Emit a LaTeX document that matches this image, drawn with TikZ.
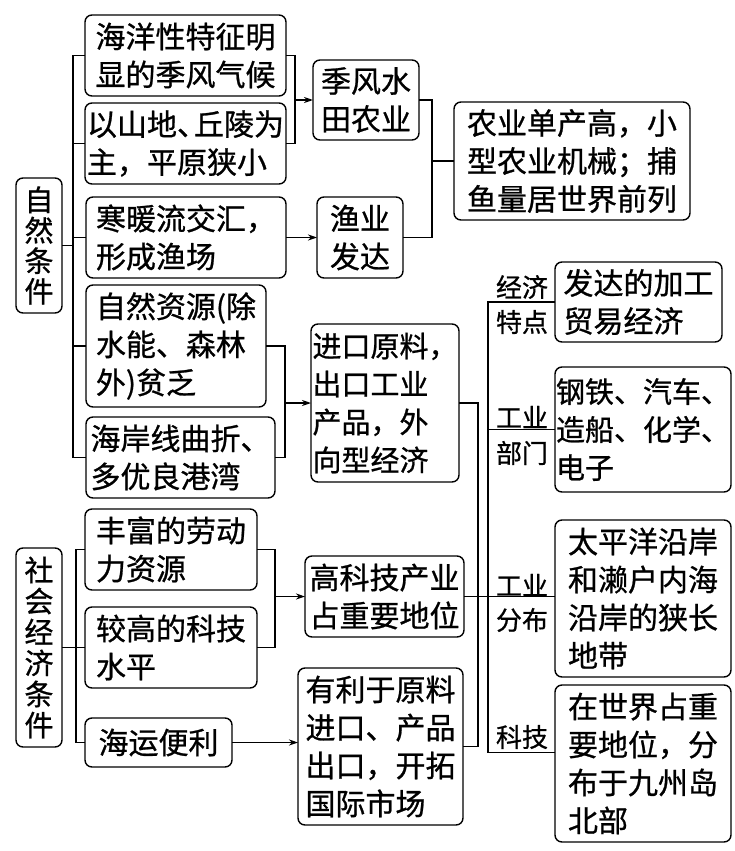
\documentclass[tikz,border=0pt]{standalone}
\usepackage{fontspec}
\newfontfamily\cjk[FakeBold=0.8]{Noto Sans CJK SC}
\usetikzlibrary{arrows.meta}
\begin{document}
\begin{tikzpicture}[x=1pt,y=-1pt,
  box/.style={draw, line width=1.4pt, rounded corners=7pt, anchor=north west, inner sep=0pt, outer sep=0pt, align=left, font=\cjk\fontsize{30}{38}\selectfont},
  vbox/.style={box, align=center, font=\cjk\fontsize{29}{30.5}\selectfont},
  lab/.style={inner sep=0pt, font=\cjk\fontsize{26}{30}\selectfont},
  ln/.style={line width=1.4pt},
  arr/.style={ln, -{Stealth[length=9pt,width=6pt]}}]
\fill[white] (0,0) rectangle (735,851);
\useasboundingbox (0,0) rectangle (735,851);
% natural conditions
\node[vbox, minimum width=46pt, minimum height=135pt] (NZ) at (16,178) {自\\然\\条\\件};
\node[box, minimum width=201pt, minimum height=81pt] (A1) at (85,15) {海洋性特征明\\显的季风气候};
\node[box, minimum width=201pt, minimum height=81pt] (A2) at (85,103) {以山地、\kern-13pt丘陵为\\主，平原狭小};
\node[box, minimum width=200pt, minimum height=81pt] (A3) at (86,197) {寒暖流交汇，\\形成渔场};
\node[box, minimum width=180pt, minimum height=122pt] (A4) at (86,285) {自然资源(除\\水能、森林\\外)贫乏};
\node[box, minimum width=189pt, minimum height=81pt] (A5) at (86,417) {海岸线曲折、\\多优良港湾};
\node[box, minimum width=106pt, minimum height=80pt] (B1) at (313,60) {季风水\\田农业};
\node[box, minimum width=86pt, minimum height=81pt] (B2) at (317,197) {渔业\\发达};
\node[box, minimum width=236pt, minimum height=118pt] (C1) at (454,102) {农业单产高，小\\型农业机械；捕\\鱼量居世界前列};
\node[box, minimum width=148pt, minimum height=158pt, font=\cjk\fontsize{29}{38}\selectfont] (B3) at (311,324) {进口原料，\\出口工业\\产品，外\\向型经济};
% right column
\node[box, minimum width=167pt, minimum height=80pt] (D1) at (555,262) {发达的加工\\贸易经济};
\node[box, minimum width=176pt, minimum height=125pt, font=\cjk\fontsize{29}{38}\selectfont] (D2) at (555,367) {钢铁、汽车、\\造船、化学、\\电子};
\node[box, minimum width=176pt, minimum height=157pt] (D3) at (555,520) {太平洋沿岸\\和濑户内海\\沿岸的狭长\\地带};
\node[box, minimum width=176pt, minimum height=157pt] (D4) at (555,685) {在世界占重\\要地位，分\\布于九州岛\\北部};
% social conditions
\node[vbox, minimum width=46pt, minimum height=199pt, font=\cjk\fontsize{29}{31}\selectfont] (SJ) at (16,548) {社\\会\\经\\济\\条\\件};
\node[box, minimum width=172pt, minimum height=81pt] (E1) at (85,509) {丰富的劳动\\力资源};
\node[box, minimum width=172pt, minimum height=81pt] (E2) at (85,607) {较高的科技\\水平};
\node[box, minimum width=147pt, minimum height=49pt] (E3) at (85,718) {海运便利};
\node[box, minimum width=159pt, minimum height=81pt] (B4) at (305,556) {高科技产业\\占重要地位};
\node[box, minimum width=165pt, minimum height=157pt] (B5) at (298,668) {有利于原料\\进口、产品\\出口，开拓\\国际市场};
% labels
\node[lab] (l1) at (522,287) {经济};
\node[lab] (l2) at (522,322) {特点};
\node[lab] (l3) at (522,417) {工业};
\node[lab] (l4) at (522,453) {部门};
\node[lab] (l5) at (522,585) {工业};
\node[lab] (l6) at (522,620) {分布};
\node[lab] (l7) at (522,737) {科技};
% guide coordinates
\coordinate (x1) at (73,0);
\coordinate (x2) at (295,0);
\coordinate (x3) at (432,0);
\coordinate (x4) at (285,0);
\coordinate (x5) at (478,0);
\coordinate (x6) at (488,0);
\coordinate (x7) at (76,0);
\coordinate (x8) at (275,0);
% connectors
\draw[ln] (A1.west) -- (A1.west -| x1) |- (A5.west);
\draw[ln] (A2.west) -- (A2.west -| x1);
\draw[ln] (A3.west) -- (A3.west -| x1);
\draw[ln] (A4.west) -- (A4.west -| x1);
\draw[ln] (NZ.east) -- (NZ.east -| x1);
\draw[ln] (A1.east) -- (A1.east -| x2) |- (A2.east);
\draw[arr] (B1.west -| x2) -- (B1.west);
\draw[arr] (A3.east) -- (A3.east -| B2.west);
\draw[ln] (B1.east) -- (B1.east -| x3) |- (B2.east);
\draw[ln] (C1.west -| x3) -- (C1.west);
\draw[ln] (A4.east) -- (A4.east -| x4) |- (A5.east);
\draw[arr] (B3.west -| x4) -- (B3.west);
\draw[ln] (B3.east) -- (B3.east -| x5) |- (B5.east);
\draw[ln] (D1.west) -- (D1.west -| x6) |- ([yshift=11pt]D4.west);
\draw[ln] (D2.west) -- (D2.west -| x6);
\draw[ln] (B4.east) -- (B4.east -| D3.west);
\draw[ln] (SJ.east) -- (SJ.east -| x7);
\draw[ln] (E1.west) -- (E1.west -| x7) |- (E3.west);
\draw[ln] (E2.west) -- (E2.west -| x7);
\draw[ln] (E1.east) -- (E1.east -| x8) |- (E2.east);
\draw[arr] (B4.west -| x8) -- (B4.west);
\draw[arr] (E3.east) -- (E3.east -| B5.west);
\end{tikzpicture}
\end{document}
